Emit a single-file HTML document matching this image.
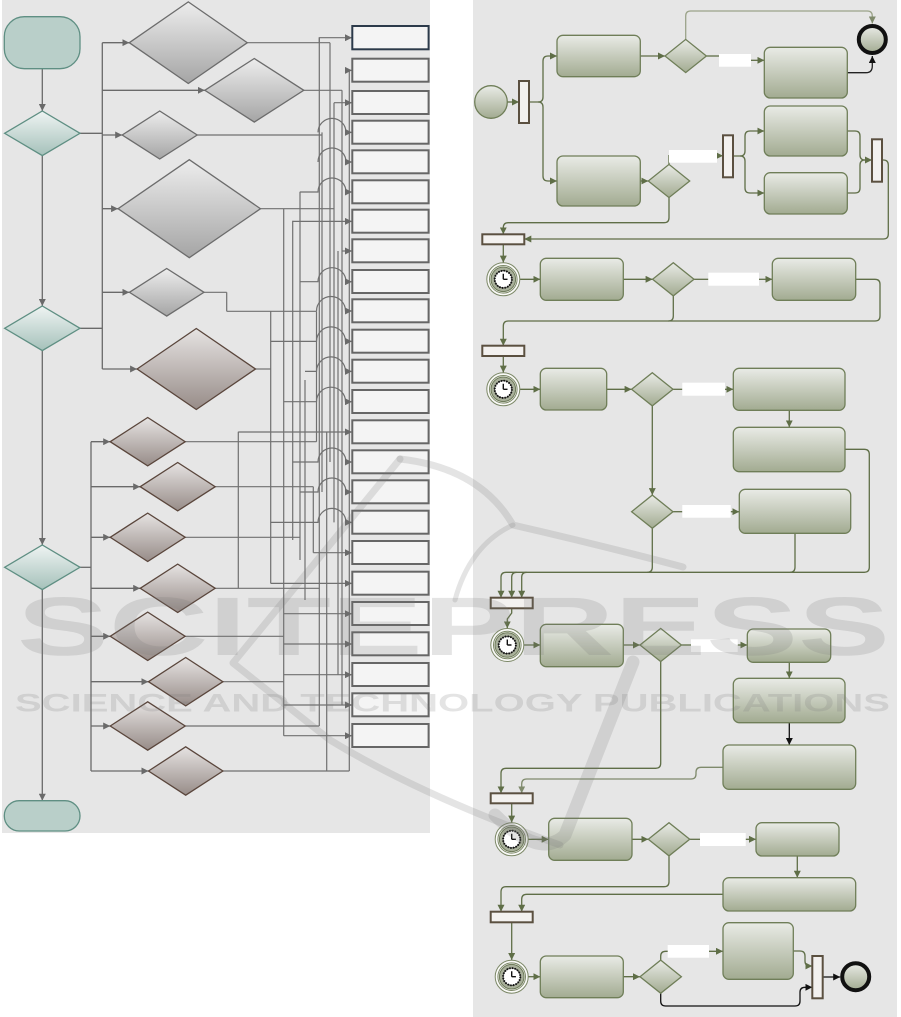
<!DOCTYPE html>
<html><head><meta charset="utf-8"><title>Diagram</title>
<style>
html,body{margin:0;padding:0;background:#fff;}
svg{display:block;}
</style></head><body>
<svg width="901" height="1017" viewBox="0 0 901 1017" xmlns="http://www.w3.org/2000/svg">
<defs>
<linearGradient id="gGray" x1="0" y1="0" x2="0" y2="1"><stop offset="0" stop-color="#ededed"/><stop offset="1" stop-color="#a5a5a5"/></linearGradient>
<linearGradient id="gBrown" x1="0" y1="0" x2="0" y2="1"><stop offset="0" stop-color="#e6e3e2"/><stop offset="1" stop-color="#978c88"/></linearGradient>
<linearGradient id="gTeal" x1="0" y1="0" x2="0" y2="1"><stop offset="0" stop-color="#eff4f3"/><stop offset="1" stop-color="#a5c1ba"/></linearGradient>
<linearGradient id="gOlive" x1="0" y1="0" x2="0" y2="1"><stop offset="0" stop-color="#e9ebe6"/><stop offset="1" stop-color="#a2ab91"/></linearGradient>
<marker id="ag" viewBox="0 0 10 10" refX="10" refY="5" markerWidth="7" markerHeight="7" markerUnits="userSpaceOnUse" orient="auto"><path d="M0,0 L10,5 L0,10 z" fill="#6a6a6a"/></marker>
<marker id="ao" viewBox="0 0 10 10" refX="10" refY="5" markerWidth="7" markerHeight="7" markerUnits="userSpaceOnUse" orient="auto"><path d="M0,0 L10,5 L0,10 z" fill="#5f6e47"/></marker>
<marker id="al" viewBox="0 0 10 10" refX="10" refY="5" markerWidth="7" markerHeight="7" markerUnits="userSpaceOnUse" orient="auto"><path d="M0,0 L10,5 L0,10 z" fill="#7f8a6c"/></marker>
<marker id="ab" viewBox="0 0 10 10" refX="10" refY="5" markerWidth="7" markerHeight="7" markerUnits="userSpaceOnUse" orient="auto"><path d="M0,0 L10,5 L0,10 z" fill="#111"/></marker>
<g id="timer">
<circle r="16.5" fill="#fafaf8" stroke="#7c8867" stroke-width="1"/>
<circle r="13.8" fill="none" stroke="#7c8867" stroke-width="1"/>
<circle r="12.3" fill="#a9b09b" stroke="#6c7957" stroke-width="1"/>
<circle r="8.6" fill="#fff" stroke="#111" stroke-width="1.9" stroke-dasharray="1.4 1.3"/>
<circle r="8.6" fill="none" stroke="#111" stroke-width="0.6"/>
<path d="M0 0 V-5.5 M0 0 H4.2" stroke="#111" stroke-width="1.4" fill="none"/>
</g>
</defs>

<!-- ===== LEFT PANEL ===== -->
<rect x="2" y="0" width="428" height="833" fill="#e6e6e6"/>

<g fill="none" stroke="#6a6a6a" stroke-width="1.3">
<path d="M42.3 68.7 V111" marker-end="url(#ag)"/>
<path d="M42.3 155.6 V306" marker-end="url(#ag)"/>
<path d="M42.3 350.6 V545" marker-end="url(#ag)"/>
<path d="M42.3 589.6 V800.7" marker-end="url(#ag)"/>
<path d="M80 133.3 H102.3"/>
<path d="M102.3 42.7 V369"/>
<path d="M102.3 42.7 H129.3" marker-end="url(#ag)"/>
<path d="M102.3 90.3 H204.8" marker-end="url(#ag)"/>
<path d="M102.3 135 H122.2" marker-end="url(#ag)"/>
<path d="M102.3 208.7 H118.1" marker-end="url(#ag)"/>
<path d="M102.3 292.3 H129.4" marker-end="url(#ag)"/>
<path d="M102.3 369 H137.1" marker-end="url(#ag)"/>
<path d="M80 328.3 H102.3"/>
<path d="M91 441.7 V771"/>
<path d="M80 567.3 H91"/>
<path d="M91 441.7 H110.2" marker-end="url(#ag)"/>
<path d="M91 486.7 H140.2" marker-end="url(#ag)"/>
<path d="M91 537.3 H110.2" marker-end="url(#ag)"/>
<path d="M91 588.3 H140.2" marker-end="url(#ag)"/>
<path d="M91 636.3 H110.2" marker-end="url(#ag)"/>
<path d="M91 681.7 H148.5" marker-end="url(#ag)"/>
<path d="M91 726 H110.2" marker-end="url(#ag)"/>
<path d="M91 771 H148.5" marker-end="url(#ag)"/>
</g>

<!-- tangle: columns -->
<g fill="none" stroke="#707070" stroke-width="1.2">
<path d="M226.7 292.3 V311.3"/>
<path d="M238.3 431.7 V588.3"/>
<path d="M270.7 311.3 V583.4"/>
<path d="M283.7 208.7 V735.7"/>
<path d="M292.7 220.7 V540"/>
<path d="M300 191.7 V560"/>
<path d="M305 380 V600"/>
<path d="M313.3 486.7 V552.7"/>
<path d="M316.5 311.3 V441.7"/>
<path d="M319.3 37.7 V726"/>
<path d="M322 132.4 V492"/>
<path d="M326.7 431.7 V771"/>
<path d="M330 42.7 V462"/>
<path d="M334 102.7 V522.4"/>
<path d="M338 251 V674.7"/>
<path d="M342 90.3 V705"/>
<path d="M349.3 70.4 V771"/>
<!-- from diamonds -->
<path d="M247.3 42.7 H330"/>
<path d="M303.8 90.3 H342"/>
<path d="M197.2 135 H322"/>
<path d="M260.5 208.7 H334"/>
<path d="M204 292.3 H226.7"/>
<path d="M226.7 311.3 H316.5"/>
<path d="M255.5 369 H270.7"/>
<path d="M185.2 441.7 H316.5"/>
<path d="M215.2 486.7 H313.3"/>
<path d="M185.2 537.3 H300"/>
<path d="M215.2 588.3 H319.3"/>
<path d="M185.2 636.3 H283.7"/>
<path d="M222.9 681.7 H283.7"/>
<path d="M185.2 726 H319.3"/>
<path d="M222.9 771 H349.3"/>
<!-- feeders -->
<path d="M319.3 42.7 V37.7 H352" marker-end="url(#ag)"/>
<path d="M349.3 70.4 H352" marker-end="url(#ag)"/>
<path d="M334 102.7 H352" marker-end="url(#ag)"/>
<path d="M318 132.4 A14 14 0 0 1 346 132.4 H352" marker-end="url(#ag)"/>
<path d="M318 162 A14 14 0 0 1 346 162 H352" marker-end="url(#ag)"/>
<path d="M300 192 H318 A14 14 0 0 1 346 192 H352" marker-end="url(#ag)"/>
<path d="M292.7 221.4 H352" marker-end="url(#ag)"/>
<path d="M342 251 H352" marker-end="url(#ag)"/>
<path d="M300 281.7 H318 A14 14 0 0 1 346 281.7 H352" marker-end="url(#ag)"/>
<path d="M316.5 311 A14.5 14.5 0 0 1 345.5 311 H352" marker-end="url(#ag)"/>
<path d="M270.7 341.4 H316.5 A14.5 14.5 0 0 1 345.5 341.4 H352" marker-end="url(#ag)"/>
<path d="M305 371.4 H316.5 A14.5 14.5 0 0 1 345.5 371.4 H352" marker-end="url(#ag)"/>
<path d="M283.7 401.7 H316.5 A14.5 14.5 0 0 1 345.5 401.7 H352" marker-end="url(#ag)"/>
<path d="M238.3 432 H352" marker-end="url(#ag)"/>
<path d="M292.7 462 H318 A14 14 0 0 1 346 462 H352" marker-end="url(#ag)"/>
<path d="M300 492 H318 A14 14 0 0 1 346 492 H352" marker-end="url(#ag)"/>
<path d="M270.7 522.4 H318 A14 14 0 0 1 346 522.4 H352" marker-end="url(#ag)"/>
<path d="M313.3 552.7 H352" marker-end="url(#ag)"/>
<path d="M270.7 583.4 H352" marker-end="url(#ag)"/>
<path d="M283.7 613.7 H352" marker-end="url(#ag)"/>
<path d="M283.7 644 H352" marker-end="url(#ag)"/>
<path d="M283.7 674.7 H352" marker-end="url(#ag)"/>
<path d="M283.7 705 H352" marker-end="url(#ag)"/>
<path d="M283.7 735.7 H352" marker-end="url(#ag)"/>
</g>

<!-- left shapes -->
<rect x="4.3" y="16.7" width="75.7" height="52" rx="20" fill="#b9cfc9" stroke="#5f8f83" stroke-width="1.3"/>
<rect x="4.3" y="800.7" width="75.7" height="30.3" rx="15" fill="#b9cfc9" stroke="#5f8f83" stroke-width="1.3"/>
<g stroke="#5f8f83" stroke-width="1.3" fill="url(#gTeal)">
<polygon points="4.6,133.3 42.3,111 80,133.3 42.3,155.6"/>
<polygon points="4.6,328.3 42.3,306 80,328.3 42.3,350.6"/>
<polygon points="4.6,567.3 42.3,545 80,567.3 42.3,589.6"/>
</g>
<g stroke="#6c6c6c" stroke-width="1.3" fill="url(#gGray)">
<polygon points="129.3,42.7 188.3,1.9 247.3,42.7 188.3,83.5"/>
<polygon points="204.8,90.3 254.3,58.5 303.8,90.3 254.3,122.1"/>
<polygon points="122.2,135 159.7,111 197.2,135 159.7,159"/>
<polygon points="118.1,208.7 189.3,159.7 260.5,208.7 189.3,257.7"/>
<polygon points="129.4,292.3 166.7,268.5 204,292.3 166.7,316.1"/>
</g>
<g stroke="#5a463c" stroke-width="1.3" fill="url(#gBrown)">
<polygon points="137.1,369 196.3,328.5 255.5,369 196.3,409.5"/>
<polygon points="110.2,441.7 147.7,417.5 185.2,441.7 147.7,465.9"/>
<polygon points="140.2,486.7 177.7,462.5 215.2,486.7 177.7,510.9"/>
<polygon points="110.2,537.3 147.7,513.1 185.2,537.3 147.7,561.5"/>
<polygon points="140.2,588.3 177.7,564.1 215.2,588.3 177.7,612.5"/>
<polygon points="110.2,636.3 147.7,612.1 185.2,636.3 147.7,660.5"/>
<polygon points="148.5,681.7 185.7,657.5 222.9,681.7 185.7,705.9"/>
<polygon points="110.2,726 147.7,701.8 185.2,726 147.7,750.2"/>
<polygon points="148.5,771 185.7,746.8 222.9,771 185.7,795.2"/>
</g>
<g fill="#f4f4f4" stroke="#666" stroke-width="2">
<rect x="352.3" y="26" width="76.3" height="23.3" stroke="#2c3a4a"/>
<rect x="352.3" y="58.7" width="76.3" height="23"/>
<rect x="352.3" y="91" width="76.3" height="23"/>
<rect x="352.3" y="120.7" width="76.3" height="23"/>
<rect x="352.3" y="150.3" width="76.3" height="23"/>
<rect x="352.3" y="180.3" width="76.3" height="23"/>
<rect x="352.3" y="209.7" width="76.3" height="23"/>
<rect x="352.3" y="239.3" width="76.3" height="23"/>
<rect x="352.3" y="270" width="76.3" height="23"/>
<rect x="352.3" y="299.3" width="76.3" height="23"/>
<rect x="352.3" y="329.7" width="76.3" height="23"/>
<rect x="352.3" y="359.7" width="76.3" height="23"/>
<rect x="352.3" y="390" width="76.3" height="23"/>
<rect x="352.3" y="420.3" width="76.3" height="23"/>
<rect x="352.3" y="450.3" width="76.3" height="23"/>
<rect x="352.3" y="480.3" width="76.3" height="23"/>
<rect x="352.3" y="510.7" width="76.3" height="23"/>
<rect x="352.3" y="541" width="76.3" height="23"/>
<rect x="352.3" y="571.7" width="76.3" height="23"/>
<rect x="352.3" y="602" width="76.3" height="23"/>
<rect x="352.3" y="632.3" width="76.3" height="23"/>
<rect x="352.3" y="663" width="76.3" height="23"/>
<rect x="352.3" y="693.3" width="76.3" height="23"/>
<rect x="352.3" y="724" width="76.3" height="23"/>
</g>

<!-- ===== RIGHT PANEL ===== -->
<rect x="473" y="0" width="424" height="1017" fill="#e6e6e6"/>

<g fill="none" stroke="#5f6e47" stroke-width="1.3">
<path d="M507.3 102 H519" marker-end="url(#ao)"/>
<path d="M529 102 H538 Q543 102 543 97 V61 Q543 56 548 56 H557" marker-end="url(#ao)"/>
<path d="M538 102 Q543 102 543 107 V176 Q543 181 548 181 H557" marker-end="url(#ao)"/>
<path d="M640.3 56 H665" marker-end="url(#ao)"/>
<path d="M685.7 39.4 V16 Q685.7 11 690.7 11 H867.3 Q872.3 11 872.3 16 V23.5" stroke="#9ba389" marker-end="url(#al)"/>
<path d="M706.4 56 H719"/>
<path d="M751 60.3 H764.3" marker-end="url(#ao)"/>
<path d="M847.3 72.7 H866 Q872.3 72.7 872.3 66 V56" stroke="#222" marker-end="url(#ab)"/>
<path d="M640.3 181 H648.3" marker-end="url(#ao)"/>
<path d="M669 164.4 V155.7 H723" marker-end="url(#ao)"/>
<path d="M733 156 H740 Q745 156 745 151 V136 Q745 131 750 131 H764.3" marker-end="url(#ao)"/>
<path d="M740 156 Q745 156 745 161 V188 Q745 193 750 193 H764.3" marker-end="url(#ao)"/>
<path d="M847.3 131 H855 Q860 131 860 136 V155 Q860 160 865 160 H872" marker-end="url(#ao)"/>
<path d="M847.3 193 H855 Q860 193 860 188 V165 Q860 160 865 160"/>
<path d="M882 160 H883.3 Q888.3 160 888.3 165 V234 Q888.3 239 883.3 239 H524.3" marker-end="url(#ao)"/>
<path d="M669 197.6 V217.7 Q669 222.7 664 222.7 H508.3 Q503.3 222.7 503.3 227.7 V234.3" marker-end="url(#ao)"/>
<path d="M503.3 244.3 V262.6" marker-end="url(#ao)"/>
<path d="M520 279.3 H540.3" marker-end="url(#ao)"/>
<path d="M623.3 279.3 H652.6" marker-end="url(#ao)"/>
<path d="M694 279.3 H708.3"/>
<path d="M759 279.3 H772.3" marker-end="url(#ao)"/>
<path d="M855.7 279.3 H875 Q880 279.3 880 284.3 V316 Q880 321 875 321 H508.3 Q503.3 321 503.3 326 V345.7" marker-end="url(#ao)"/>
<path d="M673.3 295.9 V316 Q673.3 321 668.3 321"/>
<path d="M503.3 356 V372.6" marker-end="url(#ao)"/>
<path d="M520 389.3 H540.3" marker-end="url(#ao)"/>
<path d="M606.7 389.3 H631.6" marker-end="url(#ao)"/>
<path d="M673 389.3 H682.3"/>
<path d="M725 389.3 H733.3" marker-end="url(#ao)"/>
<path d="M789.3 410.3 V427.3" marker-end="url(#ao)"/>
<path d="M845 449.3 H864.3 Q869.3 449.3 869.3 454.3 V567.3 Q869.3 572.3 864.3 572.3 H506 Q501 572.3 501 577.3 V597.7" marker-end="url(#ao)"/>
<path d="M516.7 572.3 Q511.7 572.3 511.7 577.3 V597.7" marker-end="url(#ao)"/>
<path d="M526.7 572.3 Q521.7 572.3 521.7 577.3 V597.7" marker-end="url(#ao)"/>
<path d="M652.3 405.9 V495.1" marker-end="url(#ao)"/>
<path d="M673 511.7 H682.3"/>
<path d="M730.7 511.7 H739.3" marker-end="url(#ao)"/>
<path d="M652.3 528.3 V567.3 Q652.3 572.3 647.3 572.3"/>
<path d="M795 533.3 V567.3 Q795 572.3 790 572.3"/>
<path d="M511.7 608.3 V613 L507.3 619 V628.3" marker-end="url(#ao)"/>
<path d="M524 645 H540.3" marker-end="url(#ao)"/>
<path d="M623.3 645 H640" marker-end="url(#ao)"/>
<path d="M681.4 645 H691"/>
<path d="M737.7 645 H747.3" marker-end="url(#ao)"/>
<path d="M789.3 662.3 V678.3" marker-end="url(#ao)"/>
<path d="M789.3 722.7 V745" stroke="#111" marker-end="url(#ab)"/>
<path d="M660.7 661.6 V763.3 Q660.7 768.3 655.7 768.3 H506 Q501 768.3 501 773.3 V793.3" marker-end="url(#ao)"/>
<path d="M723 767.3 H701 Q696 767.3 696 772.3 V774 Q696 779 691 779 H526.7 Q521.7 779 521.7 784 V793.3" stroke="#7f8a6c" marker-end="url(#al)"/>
<path d="M511.7 803.3 V822.6" marker-end="url(#ao)"/>
<path d="M528.4 839.3 H548.7" marker-end="url(#ao)"/>
<path d="M632 839.3 H648.3" marker-end="url(#ao)"/>
<path d="M689.7 839.3 H700"/>
<path d="M745.7 839.3 H756" marker-end="url(#ao)"/>
<path d="M797.3 856 V877.7" marker-end="url(#ao)"/>
<path d="M669 855.9 V881.7 Q669 886.7 664 886.7 H506 Q501 886.7 501 891.7 V911.7" marker-end="url(#ao)"/>
<path d="M723 894.3 H526.7 Q521.7 894.3 521.7 899.3 V911.7" marker-end="url(#ao)"/>
<path d="M511.7 922.3 V960" marker-end="url(#ao)"/>
<path d="M528.4 976.7 H540.3" marker-end="url(#ao)"/>
<path d="M623.3 976.7 H640" marker-end="url(#ao)"/>
<path d="M660.7 960.1 V956.3 Q660.7 951.3 665.7 951.3 H723" marker-end="url(#ao)"/>
<path d="M793.3 951 H800 Q805 951 805 956 V961 Q805 966 810 966 H812.3" marker-end="url(#ao)"/>
<path d="M660.7 993.3 V1001 Q660.7 1006 665.7 1006 H795 Q800 1006 800 1001 V992.3 Q800 987.3 805 987.3 H812.3" stroke="#111" marker-end="url(#ab)"/>
<path d="M822.7 977 H840.2" stroke="#111" marker-end="url(#ab)"/>
</g>

<!-- tasks -->
<g fill="url(#gOlive)" stroke="#6f7e58" stroke-width="1.3">
<rect x="557" y="35.3" width="83.3" height="41.4" rx="6"/>
<rect x="557" y="156" width="83.3" height="50" rx="6"/>
<rect x="764.3" y="47.3" width="83" height="50.7" rx="6"/>
<rect x="764.3" y="106" width="83" height="50" rx="6"/>
<rect x="764.3" y="172.7" width="83" height="41.3" rx="6"/>
<rect x="540.3" y="258.3" width="83" height="42" rx="6"/>
<rect x="772.3" y="258.3" width="83.4" height="42" rx="6"/>
<rect x="540.3" y="368.3" width="66.4" height="41.7" rx="6"/>
<rect x="733.3" y="368.3" width="111.7" height="42" rx="6"/>
<rect x="733.3" y="427.3" width="111.7" height="44.4" rx="6"/>
<rect x="739.3" y="489.3" width="111.4" height="44" rx="6"/>
<rect x="540.3" y="624.3" width="83" height="42.4" rx="6"/>
<rect x="747.3" y="629" width="83.4" height="33.3" rx="6"/>
<rect x="733.3" y="678.3" width="111.7" height="44.4" rx="6"/>
<rect x="723" y="745" width="132.7" height="44.3" rx="6"/>
<rect x="548.7" y="818.3" width="83.3" height="42" rx="6"/>
<rect x="756" y="822.7" width="83" height="33.3" rx="6"/>
<rect x="723" y="877.7" width="132.7" height="33.3" rx="6"/>
<rect x="540.3" y="956" width="83" height="41.7" rx="6"/>
<rect x="723" y="922.7" width="70.3" height="56.6" rx="6"/>
<!-- diamonds -->
<polygon points="665,56 685.7,39.4 706.4,56 685.7,72.6"/>
<polygon points="648.3,181 669,164.4 689.7,181 669,197.6"/>
<polygon points="652.6,279.3 673.3,262.7 694,279.3 673.3,295.9"/>
<polygon points="631.6,389.3 652.3,372.7 673,389.3 652.3,405.9"/>
<polygon points="631.6,511.7 652.3,495.1 673,511.7 652.3,528.3"/>
<polygon points="640,645 660.7,628.4 681.4,645 660.7,661.6"/>
<polygon points="648.3,839.3 669,822.7 689.7,839.3 669,855.9"/>
<polygon points="640,976.7 660.7,960.1 681.4,976.7 660.7,993.3"/>
<circle cx="491" cy="102" r="16.3"/>
</g>

<!-- bars -->
<g fill="#f3f1ef" stroke="#5b5040" stroke-width="2">
<rect x="519" y="81" width="10" height="42"/>
<rect x="723" y="135.3" width="10" height="42"/>
<rect x="872" y="139.3" width="10" height="42.4"/>
<rect x="482.3" y="234.3" width="42" height="10"/>
<rect x="482.3" y="345.7" width="42" height="10.3"/>
<rect x="490.7" y="597.7" width="42" height="10.6"/>
<rect x="490.7" y="793.3" width="42" height="10"/>
<rect x="490.7" y="911.7" width="42" height="10.6"/>
<rect x="812.3" y="956" width="10.4" height="42.3"/>
</g>

<!-- end circles -->
<circle cx="872.3" cy="39.5" r="13.5" fill="url(#gOlive)" stroke="#111" stroke-width="4"/>
<circle cx="855.7" cy="976.7" r="13.5" fill="url(#gOlive)" stroke="#111" stroke-width="4"/>

<!-- timers -->
<use href="#timer" x="503.3" y="279.3"/>
<use href="#timer" x="503.3" y="389.3"/>
<use href="#timer" x="507.3" y="645"/>
<use href="#timer" x="511.7" y="839.3"/>
<use href="#timer" x="511.7" y="976.7"/>

<!-- labels -->
<g fill="#ffffff">
<rect x="719" y="54" width="32" height="12.7"/>
<rect x="669" y="150" width="48" height="12.7"/>
<rect x="708.3" y="272.7" width="50.7" height="13"/>
<rect x="682.3" y="382.7" width="42.7" height="13"/>
<rect x="682.3" y="505" width="48.4" height="12.7"/>
<rect x="691" y="639.3" width="46.7" height="12.7"/>
<rect x="700" y="833" width="45.7" height="13"/>
<rect x="667.7" y="945" width="41.3" height="12.7"/>
</g>

<!-- ===== WATERMARK ===== -->
<g fill="none" stroke="#7a7a7a" stroke-opacity="0.2" stroke-linecap="round" stroke-linejoin="round">
<path d="M400 459 L233 663 L330 740 Q420 795 560 845" stroke-width="7"/>
<path d="M400 459 Q480 468 513 525 Q600 545 683 567" stroke-width="7"/>
<path d="M513 525 Q470 545 455 600" stroke-width="5"/>
<path d="M633 662 L565 835 Q540 860 495 815" stroke-width="13"/>
</g>
<text x="17" y="655" font-family="Liberation Sans, sans-serif" font-weight="bold" font-size="83" textLength="873" lengthAdjust="spacingAndGlyphs" fill="#7a7a7a" fill-opacity="0.2">SCITEPRESS</text>
<text x="15" y="711.7" font-family="Liberation Sans, sans-serif" font-weight="bold" font-size="25" textLength="875" lengthAdjust="spacingAndGlyphs" fill="#7a7a7a" fill-opacity="0.2">SCIENCE AND TECHNOLOGY PUBLICATIONS</text>
</svg>
</body></html>
